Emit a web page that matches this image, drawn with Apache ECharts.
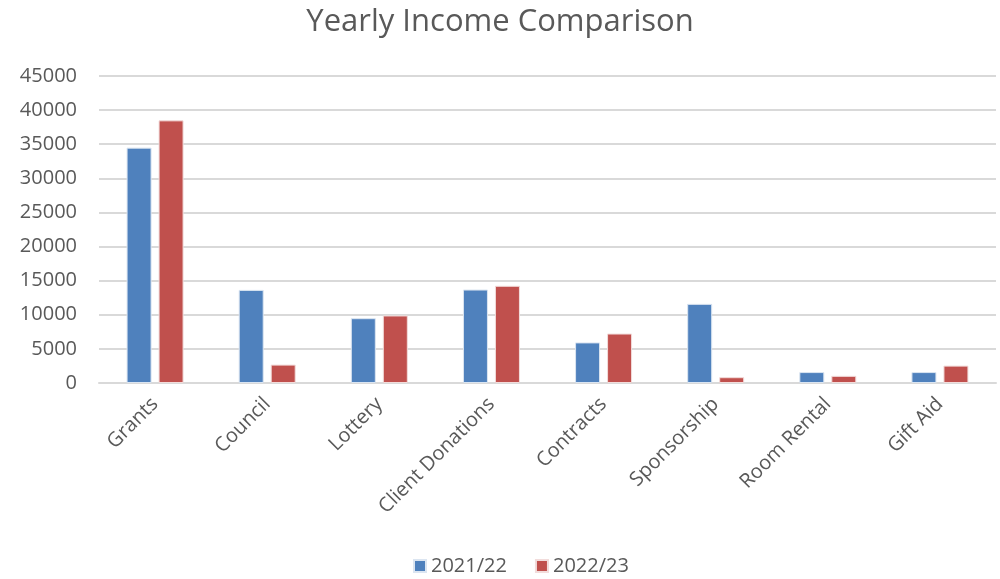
<!DOCTYPE html>
<html><head><meta charset="utf-8">
<script src="https://cdn.jsdelivr.net/npm/echarts@6/dist/echarts.min.js"></script>
<style>html,body{margin:0;padding:0;background:#fff}#c{width:1000px;height:579px}</style>
</head><body><div id="c"></div>
<script>
const categories = ["Grants","Council","Lottery","Client Donations","Contracts","Sponsorship","Room Rental","Gift Aid"];
const series2021 = [34500,13650,9500,13700,5950,11600,1600,1600];
const series2022 = [38500,2700,9900,14250,7250,850,1050,2550];
const seriesNames = ["2021/22","2022/23"];
const yTicks = {min:0,max:45000,interval:5000};

const font = "'Open Sans', 'Liberation Sans', sans-serif";
const chart = echarts.init(document.getElementById('c'));
chart.setOption({
  animation:false,
  backgroundColor:'#fff',
  title:{text:'Yearly Income Comparison',left:'center',top:2,
    textStyle:{fontFamily:font,fontSize:31,fontWeight:'normal',color:'#595959'}},
  legend:{bottom:-2,left:408,itemWidth:12,itemHeight:12,itemGap:28,icon:'rect',
    textStyle:{fontFamily:font,fontSize:20,color:'#595959'},data:seriesNames},
  grid:{left:99,right:4,top:76,bottom:196},
  xAxis:{type:'category',data:categories,
    axisLine:{show:true,lineStyle:{color:'#d9d9d9',width:2}},
    axisTick:{show:false},
    axisLabel:{rotate:45,fontFamily:font,fontSize:20,color:'#595959',margin:18,interval:0}},
  yAxis:{type:'value',min:yTicks.min,max:yTicks.max,interval:yTicks.interval,
    axisLine:{show:false},axisTick:{show:false},
    splitLine:{lineStyle:{color:'#d9d9d9',width:2}},
    axisLabel:{fontFamily:font,fontSize:20,color:'#595959',margin:22,formatter:function(v){return String(v);}}},
  series:[
    {name:seriesNames[0],type:'bar',data:series2021,barWidth:25,barGap:'28%',
     itemStyle:{color:'#4f81bd',borderColor:'#dbe5f1',borderWidth:1}},
    {name:seriesNames[1],type:'bar',data:series2022,barWidth:25,barGap:'28%',
     itemStyle:{color:'#c0504d',borderColor:'#f2dcdb',borderWidth:1}}
  ]
});
</script></body></html>
